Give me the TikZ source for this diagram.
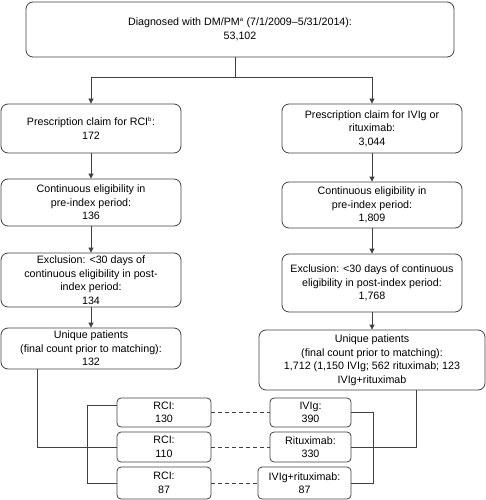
\documentclass[tikz,border=0pt]{standalone}
\usepackage{fontspec}
\setmainfont{Liberation Sans}
\usepackage{xcolor}
\usepackage[]{tikz}
\usetikzlibrary{positioning,calc}
\usetikzlibrary{arrows.meta,arrows}
\definecolor{lineGray}{HTML}{404040}
\newcommand{\fnmark}[1]{\textsuperscript{\fontsize{6}{6}\selectfont #1}}
\tikzstyle{boxBig}  =[draw=lineGray, line width=0.8pt, rounded corners=7pt, align=center, inner sep=2pt, font=\fontsize{10.7}{13.5}\selectfont]
\tikzstyle{boxSmall}=[boxBig, rounded corners=4pt]
\tikzstyle{link}    =[draw=lineGray, line width=0.8pt]
\tikzstyle{flow}    =[link, -{Triangle[length=5pt,width=5pt]}]
\tikzstyle{pair}    =[link, dash pattern=on 4pt off 3pt]

\begin{document}
\begin{tikzpicture}[x=1pt,y=-1pt]
      \useasboundingbox (0,0) rectangle (486,500);
      \node[boxBig, minimum width=428, minimum height=55] (top) at (240,29.5) {Diagnosed with DM/PM\fnmark{a} (7/1/2009--5/31/2014):\\53,102};
      \node[boxBig, minimum width=180, minimum height=49] (l1) at (91,128.5) {Prescription claim for RCI\fnmark{b}:\\172};
      \node[boxBig, minimum width=180, minimum height=47] (l2) at (91,202.5) {Continuous eligibility in\\pre-index period:\\136};
      \node[boxBig, minimum width=180, minimum height=54] (l3) at (91,280) {Exclusion: <30 days of\\continuous eligibility in post-\\index period:\\134};
      \node[boxBig, minimum width=180, minimum height=41] (l4) at (91,348.5) {Unique patients\\(final count prior to matching):\\132};
      \node[boxBig, minimum width=180, minimum height=49] (r1) at (372,128.5) {Prescription claim for IVIg or\\rituximab:\\3,044};
      \node[boxBig, minimum width=180, minimum height=46] (r2) at (372,205) {Continuous eligibility in\\pre-index period:\\1,809};
      \node[boxBig, minimum width=180, minimum height=58] (r3) at (372,283) {Exclusion: <30 days of continuous\\eligibility in post-index period:\\1,768};
      \node[boxBig, minimum width=226, minimum height=60] (r4) at (372,360) {Unique patients\\(final count prior to matching):\\1,712 (1,150 IVIg; 562 rituximab; 123\\IVIg+rituximab};
      \node[boxSmall, minimum width=94, minimum height=29] (b1) at (164,412.5) {RCI:\\130};
      \node[boxSmall, minimum width=94, minimum height=30] (b2) at (164,447) {RCI:\\110};
      \node[boxSmall, minimum width=94, minimum height=32] (b3) at (164,483) {RCI:\\87};
      \node[boxSmall, minimum width=81, minimum height=29] (c1) at (310.5,412.5) {IVIg:\\390};
      \node[boxSmall, minimum width=81, minimum height=30] (c2) at (310.5,447) {Rituximab:\\330};
      \node[boxSmall, minimum width=93, minimum height=32] (c3) at (304.5,483) {IVIg+rituximab:\\87};
      \coordinate (split) at (235,77);
      \coordinate (lbend) at (37,447);
      \coordinate (rbend) at (416,447);
      \coordinate (lbr) at (87,483);
      \coordinate (rbr) at (373,483);
      \draw[link] (top.south -| split) -- (split);
      \draw[flow] (split) -| (l1);
      \draw[flow] (split) -| (r1);
      \draw[flow] (l1) -- (l2);
      \draw[flow] (l2) -- (l3);
      \draw[flow] (l3) -- (l4);
      \draw[flow] (r1) -- (r2);
      \draw[flow] (r2) -- (r3);
      \draw[flow] (r3) -- (r4);
      \draw[link] (l4.south -| lbend) -- (lbend) -- (b2);
      \draw[link] (r4.south -| rbend) -- (rbend) -- (c2);
      \draw[link] ([yshift=7pt]b1.west) -| (lbr) -- (b3);
      \draw[link] (c1.east) -| (rbr) -- (c3);
      \draw[pair] (b1) -- (c1);
      \draw[pair] (b2) -- (c2);
      \draw[pair] (b3) -- (c3);
    \end{tikzpicture}
\end{document}
